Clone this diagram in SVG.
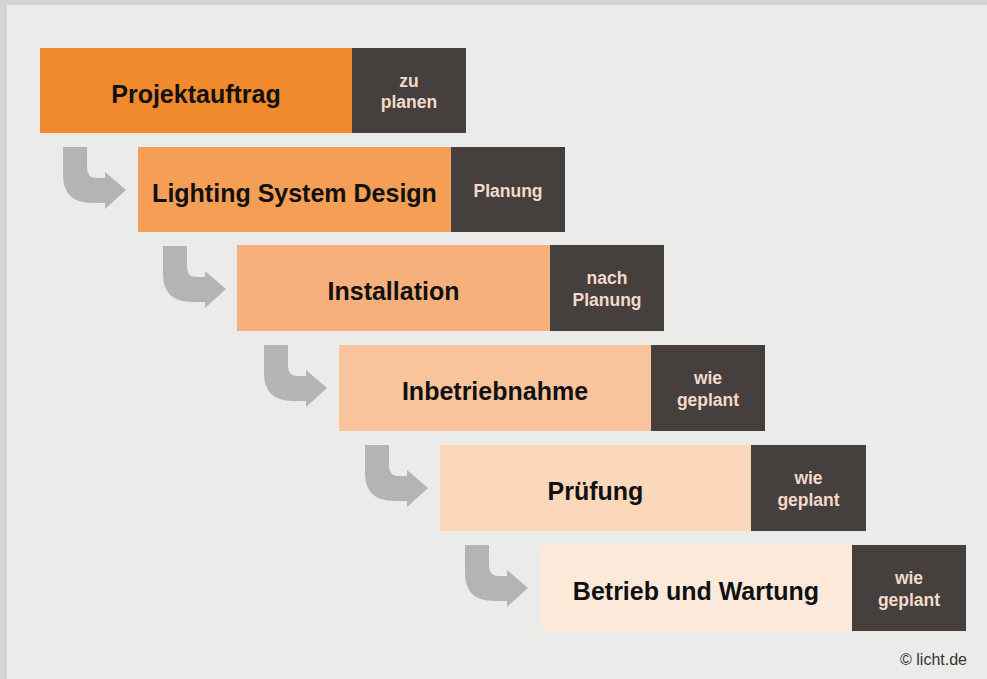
<svg xmlns="http://www.w3.org/2000/svg" xmlns:xlink="http://www.w3.org/1999/xlink" width="987" height="679" viewBox="0 0 987 679">
<style>
.main{font-family:"Liberation Sans",Arial,sans-serif;font-weight:bold;font-size:25px;fill:#111;text-anchor:middle}
.side{font-family:"Liberation Sans",Arial,sans-serif;font-weight:bold;font-size:17.5px;fill:#f4dacb;text-anchor:middle}
.dark{fill:#45403d}
.arrow{fill:#b4b4b4}
.copy{font-family:"Liberation Sans",Arial,sans-serif;font-size:16px;fill:#333;text-anchor:end}
</style>
<defs>
<path id="arr" d="M0,0 H24 V21 Q24,31 34,31 H42 V25 L63,43 L42,62 V56 H29 Q0,56 0,28 Z"/>
</defs>
<rect x="0" y="0" width="987" height="679" fill="#d2d3d5"/>
<rect x="7" y="5" width="980" height="674" fill="#ebebea"/>
<g id="connectors" class="arrow">
<use xlink:href="#arr" href="#arr" transform="translate(63,147)"/>
<use xlink:href="#arr" href="#arr" transform="translate(163,246)"/>
<use xlink:href="#arr" href="#arr" transform="translate(264,345)"/>
<use xlink:href="#arr" href="#arr" transform="translate(365,445)"/>
<use xlink:href="#arr" href="#arr" transform="translate(465,545)"/>
</g>
<g id="projektauftrag">
<rect x="40" y="48" width="312" height="85" fill="#f08a2c"/>
<rect class="dark" x="352" y="48" width="114" height="85"/>
<text class="main" x="196" y="102.5">Projektauftrag</text>
<text class="side" x="409" y="86.5">zu</text>
<text class="side" x="409" y="108">planen</text>
</g>
<g id="lighting-system-design">
<rect x="138" y="147" width="313" height="85" fill="#f59e55"/>
<rect class="dark" x="451" y="147" width="114" height="85"/>
<text class="main" x="294.5" y="201.5">Lighting System Design</text>
<text class="side" x="508" y="196.5">Planung</text>
</g>
<g id="installation">
<rect x="237" y="245" width="313" height="86" fill="#f7b07c"/>
<rect class="dark" x="550" y="245" width="114" height="86"/>
<text class="main" x="393.5" y="300">Installation</text>
<text class="side" x="607" y="284">nach</text>
<text class="side" x="607" y="305.5">Planung</text>
</g>
<g id="inbetriebnahme">
<rect x="339" y="345" width="312" height="86" fill="#f9c39c"/>
<rect class="dark" x="651" y="345" width="114" height="86"/>
<text class="main" x="495" y="400">Inbetriebnahme</text>
<text class="side" x="708" y="384">wie</text>
<text class="side" x="708" y="405.5">geplant</text>
</g>
<g id="pruefung">
<rect x="440" y="445" width="311" height="86" fill="#fbd7bc"/>
<rect class="dark" x="751" y="445" width="115" height="86"/>
<text class="main" x="595.5" y="500">Prüfung</text>
<text class="side" x="808.5" y="484">wie</text>
<text class="side" x="808.5" y="505.5">geplant</text>
</g>
<g id="betrieb-und-wartung">
<rect x="540" y="545" width="312" height="86" fill="#fde9da"/>
<rect class="dark" x="852" y="545" width="114" height="86"/>
<text class="main" x="696" y="600">Betrieb und Wartung</text>
<text class="side" x="909" y="584">wie</text>
<text class="side" x="909" y="605.5">geplant</text>
</g>
<text class="copy" x="967" y="665">© licht.de</text>
</svg>
